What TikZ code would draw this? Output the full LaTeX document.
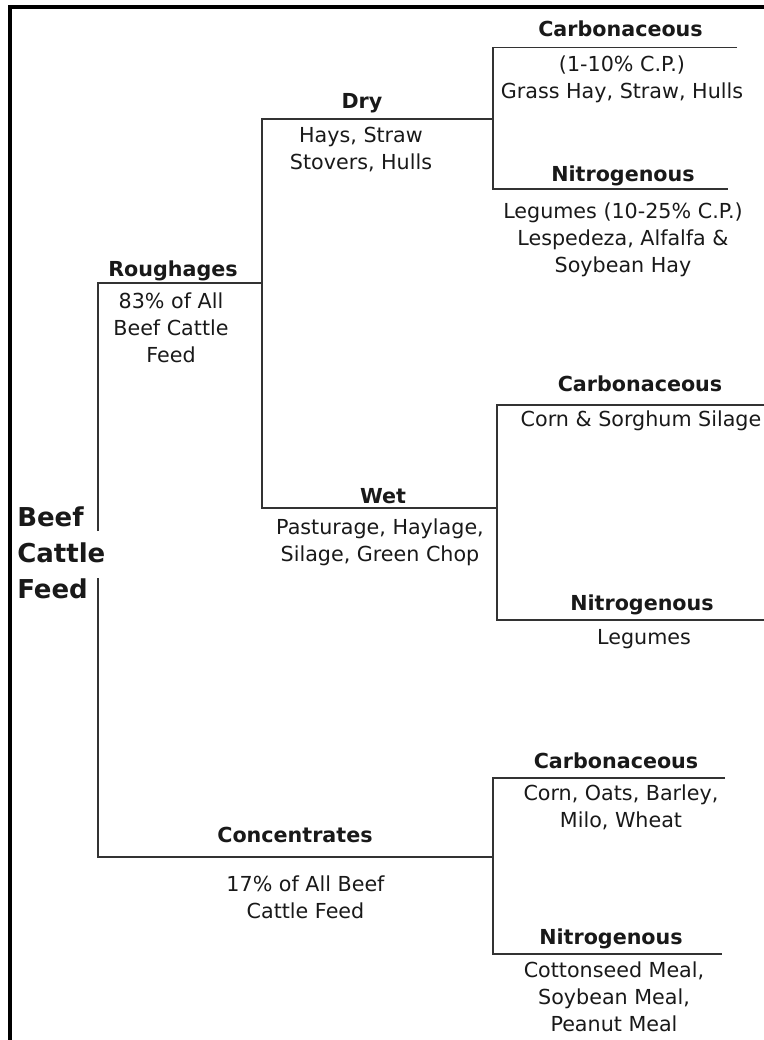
\documentclass[tikz,border=0pt]{standalone}
\usepackage{fontspec}
\setmainfont{DejaVu Sans}

\begin{document}
\begin{tikzpicture}
[x=0.75pt,y=-0.75pt,every node/.style={inner sep=0pt,align=center,text=black!90},
 head/.style={anchor=base,font=\fontsize{15.5}{20}\selectfont\bfseries},
 desc/.style={anchor=base,font=\fontsize{15.5}{20.25}\selectfont},
 branch/.style={draw=black!80,line width=1.4pt}]

\useasboundingbox (0,0) rectangle (764,1040);

% frame
\coordinate (fb) at (9.5,1040);
\coordinate (fc) at (9.5,7);
\coordinate (fr) at (764,7);
\draw[line width=3pt] (fb) -- (fc) -- (fr);

\node[anchor=base west,align=left,font=\fontsize{19.5}{27}\selectfont\bfseries] (feed) at (17,598.3) {Beef\\Cattle\\Feed};

% junctions
\coordinate (rough) at (98,283);
\coordinate (roughe) at (262,283);
\coordinate (gapa) at (98,531);
\coordinate (gapb) at (98,578);
\coordinate (conc) at (98,857);
\coordinate (concj) at (493,857);
\coordinate (dry) at (262,119);
\coordinate (dryj) at (493,119);
\coordinate (wet) at (262,508);
\coordinate (wetj) at (497,508);

\coordinate (dryC) at (493,47.5);
\coordinate (dryCe) at (737,47.5);
\coordinate (dryN) at (493,189);
\coordinate (dryNe) at (728,189);
\coordinate (wetC) at (497,405);
\coordinate (wetCe) at (764,405);
\coordinate (wetN) at (497,620);
\coordinate (wetNe) at (764,620);
\coordinate (concC) at (493,778);
\coordinate (concCe) at (725,778);
\coordinate (concN) at (493,954);
\coordinate (concNe) at (722,954);

\draw[branch] (gapa) -- (rough) -- (roughe);
\draw[branch] (gapb) -- (conc) -- (concj);
\draw[branch] (dryj) -- (dry) -- (wet) -- (wetj);
\draw[branch] (dryCe) -- (dryC) -- (dryN) -- (dryNe);
\draw[branch] (wetCe) -- (wetC) -- (wetN) -- (wetNe);
\draw[branch] (concCe) -- (concC) -- (concN) -- (concNe);

% labels (desc nodes sit on the baseline of their last line)
\node[head] (roughh) at (173,276) {Roughages};
\node[desc] (roughd) at (171,362.3) {83\% of All\\Beef Cattle\\Feed};
\node[head] (concH) at (295,842.3) {Concentrates};
\node[desc] (concd) at (305.5,918.3) {17\% of All Beef\\Cattle Feed};

\node[head] (dryh) at (362,108) {Dry};
\node[desc] (dryd) at (361,169) {Hays, Straw\\Stovers, Hulls};
\node[head] (weth) at (383,503.3) {Wet};
\node[desc] (wetd) at (380,561.7) {Pasturage, Haylage,\\Silage, Green Chop};

\node[head] (dryCh) at (620.5,36.7) {Carbonaceous};
\node[desc] (dryCd) at (622,98.3) {(1-10\% C.P.)\\Grass Hay, Straw, Hulls};
\node[head] (dryNh) at (623,181.7) {Nitrogenous};
\node[desc] (dryNd) at (623,272.7) {Legumes (10-25\% C.P.)\\Lespedeza, Alfalfa \&\\Soybean Hay};

\node[head] (wetCh) at (640,391.7) {Carbonaceous};
\node[desc] (wetCd) at (641,426) {Corn \& Sorghum Silage};
\node[head] (wetNh) at (642,610.7) {Nitrogenous};
\node[desc] (wetNd) at (644,644) {Legumes};

\node[head] (concCh) at (616,768.3) {Carbonaceous};
\node[desc] (concCd) at (621,827.7) {Corn, Oats, Barley,\\Milo, Wheat};
\node[head] (concNh) at (611,944.3) {Nitrogenous};
\node[desc] (concNd) at (614,1031.7) {Cottonseed Meal,\\Soybean Meal,\\Peanut Meal};
\end{tikzpicture}
\end{document}
